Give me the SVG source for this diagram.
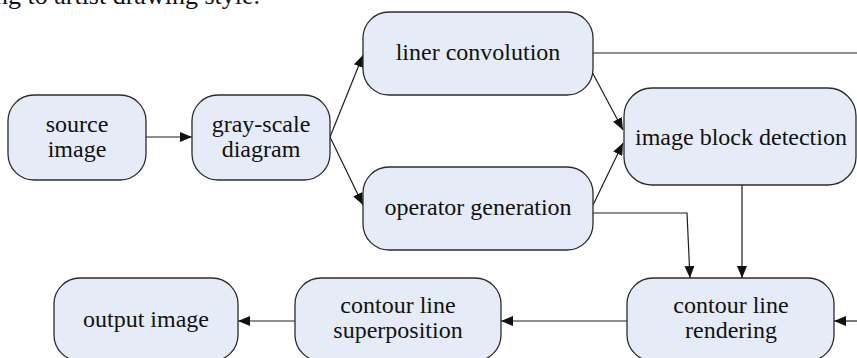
<svg xmlns="http://www.w3.org/2000/svg" width="857" height="358" viewBox="0 0 857 358">
  <style>
    .node rect { fill: #e6ecf7; stroke: #2b2b2b; stroke-width: 1.3; }
    text { font-family: 'Liberation Serif', 'DejaVu Serif', serif; font-size: 24px; fill: #111; }
    .node text { text-anchor: middle; }
    .caption { font-size: 26px; }
    .edges path, .edges line { fill: none; stroke: #1e1e1e; stroke-width: 1.2; }
    .arrow { marker-end: url(#head); }
  </style>
  <defs>
    <marker id="head" viewBox="0 0 12 10" refX="12" refY="5" markerWidth="12" markerHeight="10" markerUnits="userSpaceOnUse" orient="auto">
      <path d="M0,0 L12,5 L0,10 Z" fill="#111"/>
    </marker>
  </defs>
  <rect width="857" height="358" fill="#ffffff"/>

  <text class="caption" x="-5" y="4">ng to artist drawing style.</text>

  <g class="edges">
    <line class="arrow" x1="146" y1="137" x2="192" y2="137"/>
    <line class="arrow" x1="330" y1="137" x2="363" y2="55"/>
    <line class="arrow" x1="330" y1="137" x2="363" y2="205"/>
    <line class="arrow" x1="591" y1="70" x2="623" y2="130"/>
    <line class="arrow" x1="593" y1="205" x2="623" y2="143"/>
    <line x1="593" y1="53" x2="857" y2="53"/>
    <path class="arrow" d="M593,213 L687,213 L690,278"/>
    <line class="arrow" x1="742" y1="185" x2="742" y2="278"/>
    <line class="arrow" x1="857" y1="321" x2="834" y2="321"/>
    <line class="arrow" x1="627" y1="321" x2="501" y2="321"/>
    <line class="arrow" x1="295" y1="321" x2="238" y2="321"/>
  </g>

  <g id="source-image" class="node">
    <rect x="8" y="95" width="138" height="85" rx="26"/>
    <text x="77" y="132">source</text>
    <text x="77" y="157">image</text>
  </g>
  <g id="gray-scale-diagram" class="node">
    <rect x="192" y="95" width="138" height="85" rx="26"/>
    <text x="261" y="132">gray-scale</text>
    <text x="261" y="157">diagram</text>
  </g>
  <g id="liner-convolution" class="node">
    <rect x="363" y="12" width="230" height="83" rx="26"/>
    <text x="478" y="60">liner convolution</text>
  </g>
  <g id="operator-generation" class="node">
    <rect x="363" y="167" width="230" height="83" rx="26"/>
    <text x="478" y="215">operator generation</text>
  </g>
  <g id="image-block-detection" class="node">
    <rect x="624" y="88" width="232" height="97" rx="28"/>
    <text x="741" y="145">image block detection</text>
  </g>
  <g id="contour-line-rendering" class="node">
    <rect x="627" y="278" width="207" height="83" rx="26"/>
    <text x="731" y="313">contour line</text>
    <text x="731" y="338">rendering</text>
  </g>
  <g id="contour-line-superposition" class="node">
    <rect x="295" y="278" width="206" height="83" rx="26"/>
    <text x="398" y="313">contour line</text>
    <text x="398" y="338">superposition</text>
  </g>
  <g id="output-image" class="node">
    <rect x="54" y="278" width="184" height="83" rx="26"/>
    <text x="146" y="327">output image</text>
  </g>
</svg>
